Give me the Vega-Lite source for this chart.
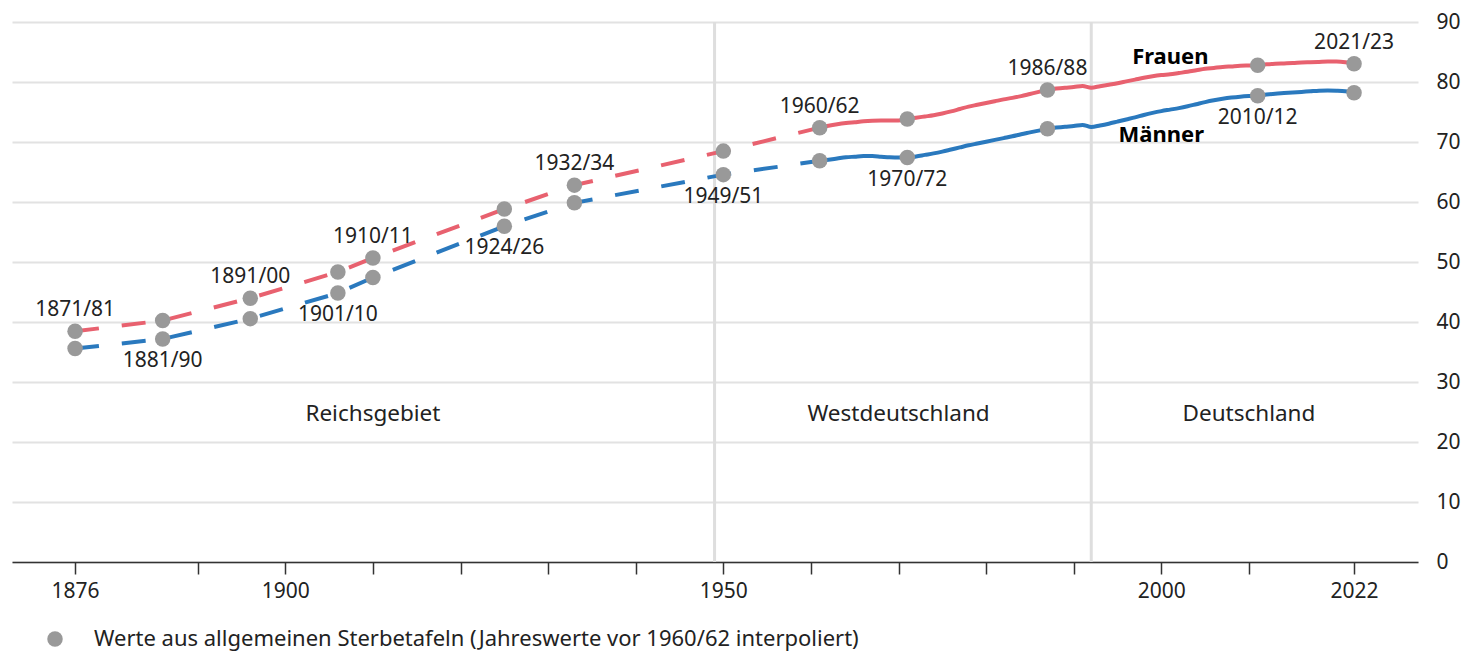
{
  "$schema": "https://vega.github.io/schema/vega-lite/v6.json",
  "width": 1406,
  "height": 540,
  "autosize": {"type": "none"},
  "padding": {"left": 12, "top": 22, "right": 46, "bottom": 91},
  "background": "white",
  "config": {
    "font": "Noto Sans",
    "view": {"stroke": null},
    "text": {"font": "Noto Sans", "fontSize": 21, "color": "#222222"},
    "legend": {"padding": 0}
  },
  "datasets": {
    "sterbetafeln": [
      {"tafel": "1871/81", "jahr": 1876, "frauen": 38.45, "maenner": 35.58},
      {"tafel": "1881/90", "jahr": 1886, "frauen": 40.25, "maenner": 37.17},
      {"tafel": "1891/00", "jahr": 1896, "frauen": 43.97, "maenner": 40.56},
      {"tafel": "1901/10", "jahr": 1906, "frauen": 48.33, "maenner": 44.82},
      {"tafel": "1910/11", "jahr": 1910, "frauen": 50.68, "maenner": 47.41},
      {"tafel": "1924/26", "jahr": 1925, "frauen": 58.82, "maenner": 55.97},
      {"tafel": "1932/34", "jahr": 1933, "frauen": 62.81, "maenner": 59.86},
      {"tafel": "1949/51", "jahr": 1950, "frauen": 68.48, "maenner": 64.56},
      {"tafel": "1960/62", "jahr": 1961, "frauen": 72.39, "maenner": 66.86},
      {"tafel": "1970/72", "jahr": 1971, "frauen": 73.83, "maenner": 67.41},
      {"tafel": "1986/88", "jahr": 1987, "frauen": 78.68, "maenner": 72.21},
      {"tafel": "2010/12", "jahr": 2011, "frauen": 82.80, "maenner": 77.72},
      {"tafel": "2021/23", "jahr": 2022, "frauen": 83.05, "maenner": 78.22}
    ],
    "jahreswerte": [
      {"jahr": 1961, "frauen": 72.39, "maenner": 66.86},
      {"jahr": 1962, "frauen": 72.7, "maenner": 67.05},
      {"jahr": 1963, "frauen": 72.95, "maenner": 67.25},
      {"jahr": 1964, "frauen": 73.15, "maenner": 67.45},
      {"jahr": 1965, "frauen": 73.3, "maenner": 67.55},
      {"jahr": 1966, "frauen": 73.45, "maenner": 67.65},
      {"jahr": 1967, "frauen": 73.55, "maenner": 67.65},
      {"jahr": 1968, "frauen": 73.6, "maenner": 67.55},
      {"jahr": 1969, "frauen": 73.6, "maenner": 67.45},
      {"jahr": 1970, "frauen": 73.6, "maenner": 67.4},
      {"jahr": 1971, "frauen": 73.83, "maenner": 67.41},
      {"jahr": 1972, "frauen": 74.05, "maenner": 67.6},
      {"jahr": 1973, "frauen": 74.25, "maenner": 67.85},
      {"jahr": 1974, "frauen": 74.45, "maenner": 68.1},
      {"jahr": 1975, "frauen": 74.75, "maenner": 68.4},
      {"jahr": 1976, "frauen": 75.1, "maenner": 68.75},
      {"jahr": 1977, "frauen": 75.5, "maenner": 69.1},
      {"jahr": 1978, "frauen": 75.9, "maenner": 69.45},
      {"jahr": 1979, "frauen": 76.2, "maenner": 69.75},
      {"jahr": 1980, "frauen": 76.5, "maenner": 70.05},
      {"jahr": 1981, "frauen": 76.8, "maenner": 70.35},
      {"jahr": 1982, "frauen": 77.1, "maenner": 70.65},
      {"jahr": 1983, "frauen": 77.35, "maenner": 70.95},
      {"jahr": 1984, "frauen": 77.65, "maenner": 71.3},
      {"jahr": 1985, "frauen": 78.0, "maenner": 71.6},
      {"jahr": 1986, "frauen": 78.35, "maenner": 71.9},
      {"jahr": 1987, "frauen": 78.68, "maenner": 72.21},
      {"jahr": 1988, "frauen": 78.9, "maenner": 72.4},
      {"jahr": 1989, "frauen": 79.05, "maenner": 72.55},
      {"jahr": 1990, "frauen": 79.15, "maenner": 72.65},
      {"jahr": 1991, "frauen": 79.35, "maenner": 72.85},
      {"jahr": 1992, "frauen": 79.05, "maenner": 72.5},
      {"jahr": 1993, "frauen": 79.3, "maenner": 72.75},
      {"jahr": 1994, "frauen": 79.55, "maenner": 73.05},
      {"jahr": 1995, "frauen": 79.8, "maenner": 73.4},
      {"jahr": 1996, "frauen": 80.1, "maenner": 73.75},
      {"jahr": 1997, "frauen": 80.4, "maenner": 74.1},
      {"jahr": 1998, "frauen": 80.7, "maenner": 74.5},
      {"jahr": 1999, "frauen": 80.95, "maenner": 74.85},
      {"jahr": 2000, "frauen": 81.15, "maenner": 75.15},
      {"jahr": 2001, "frauen": 81.3, "maenner": 75.4},
      {"jahr": 2002, "frauen": 81.5, "maenner": 75.65},
      {"jahr": 2003, "frauen": 81.7, "maenner": 75.95},
      {"jahr": 2004, "frauen": 81.95, "maenner": 76.3},
      {"jahr": 2005, "frauen": 82.2, "maenner": 76.65},
      {"jahr": 2006, "frauen": 82.35, "maenner": 76.95},
      {"jahr": 2007, "frauen": 82.5, "maenner": 77.2},
      {"jahr": 2008, "frauen": 82.6, "maenner": 77.4},
      {"jahr": 2009, "frauen": 82.7, "maenner": 77.55},
      {"jahr": 2010, "frauen": 82.75, "maenner": 77.65},
      {"jahr": 2011, "frauen": 82.8, "maenner": 77.72},
      {"jahr": 2012, "frauen": 82.95, "maenner": 77.9},
      {"jahr": 2013, "frauen": 83.05, "maenner": 78.05},
      {"jahr": 2014, "frauen": 83.1, "maenner": 78.15},
      {"jahr": 2015, "frauen": 83.15, "maenner": 78.25},
      {"jahr": 2016, "frauen": 83.25, "maenner": 78.35},
      {"jahr": 2017, "frauen": 83.3, "maenner": 78.45},
      {"jahr": 2018, "frauen": 83.35, "maenner": 78.55},
      {"jahr": 2019, "frauen": 83.4, "maenner": 78.6},
      {"jahr": 2020, "frauen": 83.4, "maenner": 78.55},
      {"jahr": 2021, "frauen": 83.3, "maenner": 78.45},
      {"jahr": 2022, "frauen": 83.05, "maenner": 78.22}
    ],
    "gebiete": [
      {"gebiet": "Reichsgebiet", "jahr": 1910},
      {"gebiet": "Westdeutschland", "jahr": 1970},
      {"gebiet": "Deutschland", "jahr": 2010}
    ],
    "grenzen": [
      {"jahr": 1949},
      {"jahr": 1992}
    ]
  },
  "layer": [
    {
      "data": {"name": "grenzen"},
      "mark": {"type": "rule", "color": "#dedede", "strokeWidth": 3},
      "encoding": {
        "x": {
          "field": "jahr",
          "type": "quantitative",
          "scale": {"domain": [1868.8, 2029.3], "nice": false, "zero": false},
          "axis": {
            "title": null,
            "values": [1876, 1890, 1900, 1910, 1920, 1930, 1940, 1950, 1960, 1970, 1980, 1990, 2000, 2010, 2022],
            "labelExpr": "indexof([1876, 1900, 1950, 2000, 2022], datum.value) >= 0 ? datum.value : ''",
            "format": "d",
            "grid": false,
            "domainColor": "#333333",
            "domainWidth": 1.5,
            "tickColor": "#333333",
            "tickWidth": 1.5,
            "tickSize": 12,
            "labelFontSize": 21,
            "labelColor": "#222222",
            "labelPadding": 6,
            "labelOverlap": false,
            "labelFlush": false
          }
        }
      }
    },
    {
      "data": {"name": "gebiete"},
      "mark": {"type": "text", "fontSize": 22.5, "baseline": "middle", "dy": 2},
      "encoding": {
        "x": {"field": "jahr", "type": "quantitative"},
        "y": {"datum": 25},
        "text": {"field": "gebiet"}
      }
    },
    {
      "data": {"name": "sterbetafeln"},
      "transform": [
        {"filter": "datum.jahr <= 1961"},
        {"fold": ["frauen", "maenner"], "as": ["geschlecht", "wert"]}
      ],
      "mark": {"type": "line", "strokeWidth": 4, "strokeDash": [24, 23], "strokeCap": "butt"},
      "encoding": {
        "x": {"field": "jahr", "type": "quantitative"},
        "y": {
          "field": "wert",
          "type": "quantitative",
          "scale": {"domain": [0, 90], "nice": false},
          "axis": {
            "orient": "right",
            "title": null,
            "values": [0, 10, 20, 30, 40, 50, 60, 70, 80, 90],
            "grid": true,
            "gridColor": "#e2e2e2",
            "gridWidth": 2,
            "domain": false,
            "ticks": false,
            "labelPadding": 18,
            "labelFontSize": 21,
            "labelColor": "#222222",
            "labelAlign": "left"
          }
        },
        "color": {
          "field": "geschlecht",
          "type": "nominal",
          "scale": {"domain": ["frauen", "maenner"], "range": ["#e8616f", "#2a79be"]},
          "legend": null
        }
      }
    },
    {
      "data": {"name": "jahreswerte"},
      "transform": [
        {"fold": ["frauen", "maenner"], "as": ["geschlecht", "wert"]}
      ],
      "mark": {"type": "line", "strokeWidth": 4, "interpolate": "monotone"},
      "encoding": {
        "x": {"field": "jahr", "type": "quantitative"},
        "y": {"field": "wert", "type": "quantitative"},
        "color": {"field": "geschlecht", "type": "nominal", "legend": null}
      }
    },
    {
      "data": {"name": "sterbetafeln"},
      "transform": [
        {"fold": ["frauen", "maenner"], "as": ["geschlecht", "wert"]}
      ],
      "mark": {"type": "circle", "size": 240, "opacity": 1},
      "encoding": {
        "x": {"field": "jahr", "type": "quantitative"},
        "y": {"field": "wert", "type": "quantitative"},
        "fill": {
          "datum": "Werte aus allgemeinen Sterbetafeln (Jahreswerte vor 1960/62 interpoliert)",
          "type": "nominal",
          "scale": {"range": ["#999999"]},
          "legend": {
            "title": null,
            "orient": "none",
            "legendX": 32,
            "legendY": 606,
            "symbolType": "circle",
            "symbolSize": 240,
            "symbolStrokeWidth": 0,
            "labelFontSize": 22,
            "labelColor": "#222222",
            "labelOffset": 28,
            "labelLimit": 1200
          }
        }
      }
    },
    {
      "data": {"name": "sterbetafeln"},
      "transform": [
        {"filter": {"field": "tafel", "oneOf": ["1871/81", "1891/00", "1910/11", "1932/34", "1960/62", "1986/88", "2021/23"]}}
      ],
      "mark": {"type": "text", "fontSize": 21, "baseline": "middle", "dy": -21},
      "encoding": {
        "x": {"field": "jahr", "type": "quantitative"},
        "y": {"field": "frauen", "type": "quantitative"},
        "text": {"field": "tafel"}
      }
    },
    {
      "data": {"name": "sterbetafeln"},
      "transform": [
        {"filter": {"field": "tafel", "oneOf": ["1881/90", "1901/10", "1924/26", "1949/51", "1970/72", "2010/12"]}}
      ],
      "mark": {"type": "text", "fontSize": 21, "baseline": "middle", "dy": 22},
      "encoding": {
        "x": {"field": "jahr", "type": "quantitative"},
        "y": {"field": "maenner", "type": "quantitative"},
        "text": {"field": "tafel"}
      }
    },
    {
      "data": {"name": "jahreswerte"},
      "transform": [{"filter": "datum.jahr == 2000"}],
      "mark": {"type": "text", "fontSize": 22, "fontWeight": "bold", "baseline": "middle", "dy": -18, "dx": 9, "text": "Frauen", "color": "#000000"},
      "encoding": {
        "x": {"field": "jahr", "type": "quantitative"},
        "y": {"field": "frauen", "type": "quantitative"}
      }
    },
    {
      "data": {"name": "jahreswerte"},
      "transform": [{"filter": "datum.jahr == 2000"}],
      "mark": {"type": "text", "fontSize": 22, "fontWeight": "bold", "baseline": "middle", "dy": 24, "text": "Männer", "color": "#000000"},
      "encoding": {
        "x": {"field": "jahr", "type": "quantitative"},
        "y": {"field": "maenner", "type": "quantitative"}
      }
    }
  ]
}
